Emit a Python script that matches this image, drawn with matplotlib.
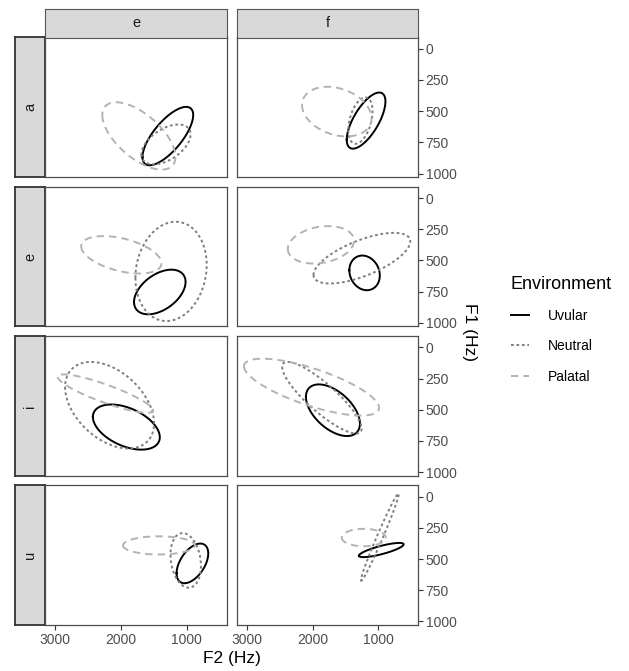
import numpy as np
import matplotlib
matplotlib.use("Agg")
import matplotlib.pyplot as plt
from matplotlib.lines import Line2D

plt.rcParams['font.family'] = ['Liberation Sans', 'DejaVu Sans']

# ---------------- data ----------------
vowels = ['a', 'e', 'i', 'u']          # facet rows
contexts = ['e', 'f']                  # facet columns
environments = ['Uvular', 'Neutral', 'Palatal']
x_ticks = [3000, 2000, 1000]
y_ticks = [0, 250, 500, 750, 1000]

# panel order: (a,e),(a,f),(e,e),(e,f),(i,e),(i,f),(u,e),(u,f)
uvular_f2 = [1290, 1184, 1412, 1207, 1921, 1691, 916, 951]
uvular_f1 = [700, 576, 753, 600, 639, 504, 535, 428]
uvular_sd_f2 = [386, 296, 392, 233, 509, 413, 241, 342]
uvular_sd_f1 = [234, 225, 179, 139, 181, 207, 159, 57]
uvular_r = [0.72, 0.68, 0.45, -0.15, -0.45, -0.52, 0.50, 0.80]

neutral_f2 = [1318, 1270, 1241, 1248, 2176, 1860, 1018, 974]
neutral_f1 = [767, 576, 588, 482, 464, 404, 511, 325]
neutral_sd_f2 = [374, 185, 542, 740, 677, 608, 232, 289]
neutral_sd_f1 = [160, 186, 398, 203, 347, 287, 219, 350]
neutral_r = [0.50, 0.40, 0.13, 0.66, -0.42, -0.86, -0.20, 0.985]

palatal_f2 = [1730, 1632, 1997, 1875, 2240, 2018, 1425, 1220]
palatal_f1 = [699, 504, 455, 375, 371, 319, 391, 328]
palatal_sd_f2 = [557, 532, 611, 506, 725, 1033, 547, 337]
palatal_sd_f1 = [270, 199, 150, 150, 154, 228, 73, 70]
palatal_r = [-0.62, -0.27, -0.45, 0.22, -0.87, -0.73, 0.0, 0.0]

series = {
    'Uvular': (uvular_f2, uvular_f1, uvular_sd_f2, uvular_sd_f1, uvular_r),
    'Neutral': (neutral_f2, neutral_f1, neutral_sd_f2, neutral_sd_f1, neutral_r),
    'Palatal': (palatal_f2, palatal_f1, palatal_sd_f2, palatal_sd_f1, palatal_r),
}
styles = {
    'Uvular': dict(color='black', linestyle='-', linewidth=1.4),
    'Neutral': dict(color='#7f7f7f', linestyle=(0, (1.4, 1.4)), linewidth=1.4),
    'Palatal': dict(color='#b3b3b3', linestyle=(0, (3.8, 2.6)), linewidth=1.4),
}

# ---------------- layout ----------------
W, H = 629, 671
fig = plt.figure(figsize=(W / 100, H / 100), dpi=100)
fig.patch.set_facecolor('white')

def rect(x0, y0, x1, y1):
    return [x0 / W, 1 - y1 / H, (x1 - x0) / W, (y1 - y0) / H]

col_x = [(45, 227), (237, 418)]
row_top0, row_h, row_step = 37.5, 139.5, 149.3
xlim = (3158, 390)
ylim = (1028, -90)

t = np.linspace(0, 2 * np.pi, 400)
tick_col = '#4d4d4d'
border_col = '#4d4d4d'

for ri, v in enumerate(vowels):
    y0 = row_top0 + ri * row_step
    y1 = y0 + row_h
    # row strip (left)
    sax = fig.add_axes(rect(15, y0, 45, y1))
    sax.set_facecolor('#d9d9d9')
    sax.set_xticks([]); sax.set_yticks([])
    for s in sax.spines.values():
        s.set_color('#333333'); s.set_linewidth(1.3)
    sax.text(0.5, 0.5, v, rotation=90, ha='center', va='center',
             fontsize=10.5, color='#1a1a1a', transform=sax.transAxes)
    for ci, c in enumerate(contexts):
        x0, x1 = col_x[ci]
        ax = fig.add_axes(rect(x0, y0, x1, y1))
        k = ri * 2 + ci
        for env in environments:
            f2, f1, s2, s1, rr = series[env]
            r = rr[k]
            xs = f2[k] + s2[k] * np.cos(t)
            ys = f1[k] + s1[k] * (r * np.cos(t) + np.sqrt(1 - r * r) * np.sin(t))
            ax.plot(xs, ys, **styles[env])
        ax.set_xlim(*xlim)
        ax.set_ylim(*ylim)
        for s in ax.spines.values():
            s.set_color(border_col); s.set_linewidth(0.9)
        ax.yaxis.tick_right()
        ax.set_xticks(x_ticks)
        ax.set_yticks(y_ticks)
        ax.tick_params(axis='both', colors='#333333', labelcolor=tick_col,
                       labelsize=10, length=3.5, width=0.8, pad=2)
        if ci == 0:
            ax.tick_params(axis='y', right=False, labelright=False)
        if ri != len(vowels) - 1:
            ax.tick_params(axis='x', bottom=False, labelbottom=False)
        # column strip on top
        if ri == 0:
            cax = fig.add_axes(rect(x0, 9.3, x1, 37.5))
            cax.set_facecolor('#d9d9d9')
            cax.set_xticks([]); cax.set_yticks([])
            for s in cax.spines.values():
                s.set_color('#555555'); s.set_linewidth(0.8)
            cax.text(0.5, 0.5, c, ha='center', va='center', fontsize=10.5,
                     color='#1a1a1a', transform=cax.transAxes)

# axis titles
fig.text(231.5 / W, 1 - 659 / H, 'F2 (Hz)', ha='center', va='center', fontsize=12.5)
fig.text(469 / W, 1 - 332 / H, 'F1 (Hz)', ha='center', va='center', fontsize=12.5,
         rotation=-90)

# legend
fig.text(510 / W, 1 - 285 / H, 'Environment', ha='left', va='center', fontsize=13)
handles = [Line2D([0], [0], **styles[e]) for e in environments]
leg = fig.legend(handles, environments, loc='upper left',
                 bbox_to_anchor=(498 / W, 1 - 296 / H), frameon=False,
                 fontsize=10, handlelength=1.3,
                 labelspacing=1.2, handletextpad=1.4)

fig.savefig('out.png', dpi=100, facecolor='white')
